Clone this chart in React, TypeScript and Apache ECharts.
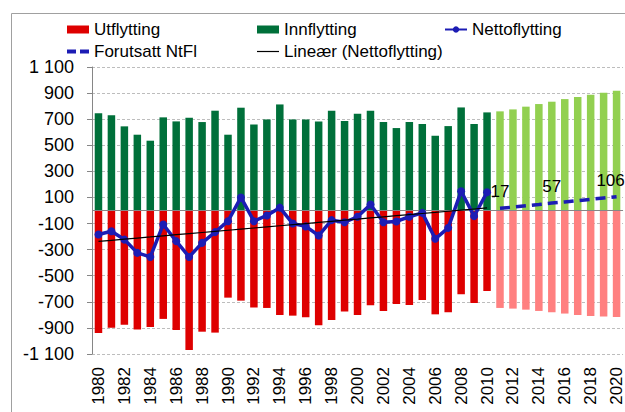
import React, { useEffect, useRef } from "react";
import * as echarts from "echarts";

const years: string[] = Array.from({ length: 41 }, (_, i) => String(1980 + i));
const histCount = 31; // 1980-2010 observed, 2011-2020 forecast

const innflytting = [
  745, 730, 645, 581, 535, 714, 683, 711, 678, 765, 581, 788, 660, 698, 813, 698,
  698, 683, 765, 686, 742, 765, 678, 632, 678, 663, 573, 647, 790, 663, 752,
  760, 775, 796, 816, 834, 854, 870, 888, 903, 918,
];
const utflytting = [
  -939, -898, -875, -913, -893, -831, -916, -1069, -929, -936, -668, -691, -744, -747,
  -801, -806, -819, -880, -839, -775, -801, -727, -770, -716, -724, -686, -796, -780,
  -642, -709, -617,
  -747, -752, -760, -770, -780, -790, -801, -808, -813, -816,
];
const nettoflytting = [
  -184, -159, -223, -325, -356, -107, -235, -356, -248, -166, -82, 100, -82, -38, 22,
  -100, -122, -192, -74, -90, -48, 46, -90, -84, -48, -18, -217, -133, 148, -43, 140,
];
const forutsattNtFl = [17, 26, 36, 46, 57, 66, 76, 86, 96, 106];
const labelledForecastYears = ["2011", "2015", "2020"];

const yTicks = { min: -1100, max: 1100, interval: 200 };

const C = {
  red: "#DE0000",
  redLight: "#FF8080",
  green: "#00703A",
  greenLight: "#92D050",
  blue: "#1C1CB4",
  axis: "#868686",
  grid: "#BDBDBD",
};
const FONT = "'Liberation Sans', Arial, sans-serif";

function fmt(v: number): string {
  const s = String(Math.abs(v)).replace(/\B(?=(\d{3})+(?!\d))/g, " ");
  return (v < 0 ? "-" : "") + s;
}

function linearTrend(vals: number[]): number[] {
  const n = vals.length;
  const mx = (n - 1) / 2;
  const my = vals.reduce((a, b) => a + b, 0) / n;
  let sxy = 0, sxx = 0;
  vals.forEach((v, i) => {
    sxy += (i - mx) * (v - my);
    sxx += (i - mx) * (i - mx);
  });
  const b = sxy / sxx;
  return vals.map((_, i) => my + b * (i - mx));
}

export default function App() {
  const ref = useRef<HTMLDivElement>(null);
  useEffect(() => {
    document.body.style.margin = "0";
    const chart = echarts.init(ref.current!, undefined, { renderer: "svg" });
    const trend = linearTrend(nettoflytting);

    const inData = innflytting.map((v, i) =>
      i >= histCount ? { value: v, itemStyle: { color: C.greenLight } } : v
    );
    const outData = utflytting.map((v, i) =>
      i >= histCount ? { value: v, itemStyle: { color: C.redLight } } : v
    );
    const netData = years.map((_, i) => (i < histCount ? nettoflytting[i] : "-"));
    const fcData = years.map((y, i) => {
      if (i < histCount) return "-";
      const v = forutsattNtFl[i - histCount];
      if (!labelledForecastYears.includes(y)) return v;
      const last = i === years.length - 1;
      return { value: v, label: { show: true, offset: last ? [-6, 0] : [0, 0] } };
    });
    const trendData = years.map((_, i) => (i < histCount ? Math.round(trend[i] * 10) / 10 : "-"));

    const legendText = { fontFamily: FONT, fontSize: 17, color: "#000" };
    const mkLegend = (name: string, left: number, top: number, extra: any = {}) => ({
      data: [name],
      left,
      top,
      padding: 0,
      itemWidth: 22,
      itemHeight: 8,
      itemGap: 0,
      textStyle: legendText,
      selectedMode: false,
      ...extra,
    });

    chart.setOption({
      animation: false,
      backgroundColor: "#fff",
      graphic: [
        {
          type: "rect",
          shape: { x: 11.5, y: 13.5, width: 700, height: 500 },
          style: { fill: "none", stroke: "#A0A0A0", lineWidth: 1 },
          silent: true,
          z: -1,
        },
      ],
      legend: [
        mkLegend("Utflytting", 67, 21, { icon: "rect" }),
        mkLegend("Innflytting", 257, 21, { icon: "rect" }),
        mkLegend("Nettoflytting", 444, 21),
        mkLegend("Forutsatt NtFl", 67, 43, {
          icon: "path://M0,0h9v4h-9z M13,0h9v4h-9z",
          itemHeight: 4,
        }),
        mkLegend("Lineær (Nettoflytting)", 257, 43, {
          icon: "rect",
          itemHeight: 1.2,
        }),
      ],
      grid: { left: 92, top: 67, width: 537, height: 287, containLabel: false },
      xAxis: {
        type: "category",
        data: years,
        axisLine: { show: false, onZero: false },
        axisTick: { show: false },
        axisLabel: {
          interval: 1,
          rotate: 90,
          margin: 13,
          fontFamily: FONT,
          fontSize: 17,
          color: "#000",
        },
        splitLine: { show: false },
      },
      yAxis: {
        type: "value",
        min: yTicks.min,
        max: yTicks.max,
        interval: yTicks.interval,
        axisLine: { show: true, lineStyle: { color: C.axis, width: 1 } },
        axisTick: { show: true, length: 5, lineStyle: { color: C.axis } },
        axisLabel: {
          formatter: (v: number) => fmt(v),
          fontFamily: FONT,
          fontSize: 18,
          color: "#000",
          margin: 18,
        },
        splitLine: { show: true, lineStyle: { color: C.grid, type: [3, 2], width: 1 } },
      },
      series: [
        {
          name: "Utflytting",
          type: "bar",
          data: outData,
          barWidth: 7.5,
          barGap: "-100%",
          itemStyle: { color: C.red },
          markLine: {
            silent: true,
            symbol: "none",
            label: { show: false },
            lineStyle: { color: C.axis, type: "solid", width: 1 },
            data: [{ yAxis: 0 }],
            z: 3,
          },
        },
        {
          name: "Innflytting",
          type: "bar",
          data: inData,
          barWidth: 7.5,
          barGap: "-100%",
          itemStyle: { color: C.green },
        },
        {
          name: "Nettoflytting",
          type: "line",
          data: netData,
          symbol: "circle",
          symbolSize: 8,
          itemStyle: { color: C.blue },
          lineStyle: { color: C.blue, width: 3.5 },
          z: 5,
        },
        {
          name: "Forutsatt NtFl",
          type: "line",
          data: fcData,
          symbol: "circle",
          symbolSize: 0,
          itemStyle: { color: C.blue },
          lineStyle: { color: C.blue, width: 3.5, type: [10, 6] },
          label: {
            show: false,
            position: "top",
            distance: 8,
            fontFamily: FONT,
            fontSize: 17,
            color: "#000",
          },
          z: 5,
        },
        {
          name: "Lineær (Nettoflytting)",
          type: "line",
          data: trendData,
          symbol: "none",
          itemStyle: { color: "#000" },
          lineStyle: { color: "#000", width: 1.2 },
          z: 6,
        },
      ],
    });
    return () => chart.dispose();
  }, []);
  return (
    <div
      ref={ref}
      style={{ position: "fixed", left: 0, top: 0, width: 625, height: 412 }}
    />
  );
}
